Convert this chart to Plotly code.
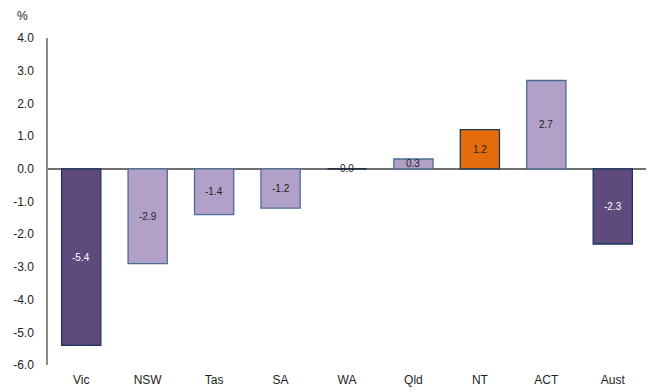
import plotly.graph_objects as go

# Percentage change by state/territory
states = ["Vic", "NSW", "Tas", "SA", "WA", "Qld", "NT", "ACT", "Aust"]
values = [-5.4, -2.9, -1.4, -1.2, 0.0, 0.3, 1.2, 2.7, -2.3]
fill_colors = ["#5E4A7D", "#B1A0C7", "#B1A0C7", "#B1A0C7", "#B1A0C7",
               "#B1A0C7", "#E46C0A", "#B1A0C7", "#5E4A7D"]
edge_colors = ["#17375E", "#4A6C96", "#4A6C96", "#4A6C96", "#0B1F3A",
               "#4A6C96", "#17375E", "#4A6C96", "#17375E"]
label_colors = ["#FFFFFF", "#222222", "#222222", "#222222", "#222222",
                "#222222", "#222222", "#222222", "#FFFFFF"]
y_ticks = [4.0, 3.0, 2.0, 1.0, 0.0, -1.0, -2.0, -3.0, -4.0, -5.0, -6.0]

FONT = "Liberation Sans, Arial, sans-serif"

fig = go.Figure(
    go.Bar(
        x=states,
        y=values,
        marker=dict(color=fill_colors, line=dict(color=edge_colors, width=1.3)),
        width=0.59,
        hoverinfo="x+y",
    )
)

# value labels centred within each bar
for s, v, c in zip(states, values, label_colors):
    fig.add_annotation(
        x=s, y=v / 2, text=f"{v:.1f}", showarrow=False,
        font=dict(family=FONT, size=10, color=c),
        xanchor="center", yanchor="middle",
    )

L, R, T, B = 48, 5, 38, 24
W, H = 651, 392
pw = W - L - R
ph = H - T - B

fig.add_annotation(
    xref="paper", yref="paper",
    x=(22 - L) / pw, y=1 + (T - 16) / ph,
    text="%", showarrow=False,
    font=dict(family=FONT, size=12, color="#222222"),
    xanchor="center", yanchor="middle",
)

fig.update_layout(
    width=W, height=H,
    margin=dict(l=L, r=R, t=T, b=B),
    paper_bgcolor="white", plot_bgcolor="white",
    showlegend=False,
    bargap=0.41,
    font=dict(family=FONT, size=12, color="#222222"),
)
fig.update_xaxes(
    showgrid=False, showline=False, zeroline=False,
    ticks="", ticklabelstandoff=6,
    tickfont=dict(family=FONT, size=12, color="#222222"),
)
fig.update_yaxes(
    range=[-6, 4], tickvals=y_ticks, ticktext=[f"{t:.1f}" for t in y_ticks],
    showgrid=False, showline=True, linecolor="#888888", linewidth=1.5,
    zeroline=True, zerolinecolor="#707070", zerolinewidth=1.5,
    ticks="", ticklabelstandoff=10,
    tickfont=dict(family=FONT, size=12, color="#222222"),
)

fig.write_html("out.html")
